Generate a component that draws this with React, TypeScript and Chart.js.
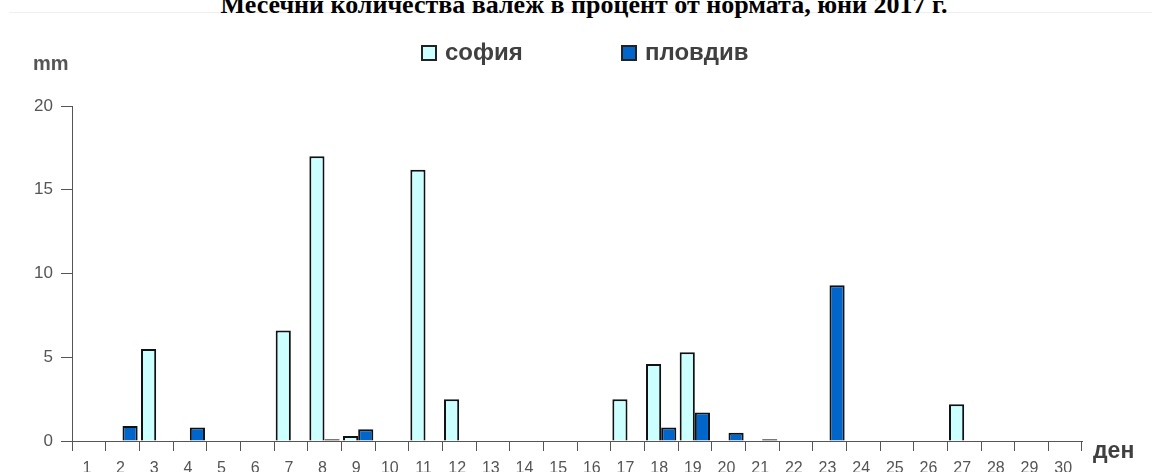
import React, { useEffect, useRef } from "react";
import { Chart, registerables } from "chart.js";

Chart.register(...registerables);

const TITLE = "Месечни количества валеж в процент от нормата, юни 2017 г.";
const Y_UNIT = "mm";
const X_UNIT = "ден";
const DAYS = Array.from({ length: 30 }, (_, i) => String(i + 1));
const SERIES_NAMES = ["софия", "пловдив"];
const SOFIA = [0, 0, 5.5, 0, 0, 0, 6.6, 17.0, 0.3, 0, 16.2, 2.5, 0, 0, 0, 0, 2.5, 4.6, 5.3, 0, 0, 0, 0, 0, 0, 0, 2.2, 0, 0, 0];
const PLOVDIV = [0, 0.9, 0, 0.8, 0, 0, 0, 0.1, 0.7, 0, 0, 0, 0, 0, 0, 0, 0, 0.8, 1.7, 0.5, 0.1, 0, 9.3, 0, 0, 0, 0, 0, 0, 0];
const Y_TICKS = [0, 5, 10, 15, 20];
const COLORS = ["#ccffff", "#0066cc"];

const W = 1152;
const H = 472;
const AXIS_COLOR = "#555555";
const TEXT_COLOR = "#555555";
const BORDER = "#111111";
const FONT = '"Liberation Sans", Arial, sans-serif';

const tiny = (ctx: any) => ctx.raw > 0 && ctx.raw < 0.25;
const fill = (i: number) => (ctx: any) => (tiny(ctx) ? BORDER : COLORS[i]);

export default function App() {
  const ref = useRef<HTMLCanvasElement | null>(null);

  useEffect(() => {
    const canvas = ref.current;
    if (!canvas) return;
    const chart = new Chart(canvas, {
      type: "bar",
      data: {
        labels: DAYS,
        datasets: [
          {
            label: SERIES_NAMES[0],
            data: SOFIA,
            backgroundColor: fill(0) as any,
            borderColor: BORDER,
            borderWidth: 2,
            categoryPercentage: 0.9,
            barPercentage: 1.0,
          },
          {
            label: SERIES_NAMES[1],
            data: PLOVDIV,
            backgroundColor: fill(1) as any,
            borderColor: BORDER,
            borderWidth: 2,
            categoryPercentage: 0.9,
            barPercentage: 1.0,
          },
        ],
      },
      options: {
        responsive: false,
        animation: false,
        events: [],
        layout: { padding: { top: 106, right: 70, left: 0, bottom: 0 } },
        plugins: {
          legend: { display: false },
          title: { display: false },
          tooltip: { enabled: false },
        },
        scales: {
          x: {
            type: "category",
            offset: true,
            grid: {
              display: true,
              offset: true,
              drawOnChartArea: false,
              drawTicks: true,
              tickLength: 10,
              color: AXIS_COLOR,
              lineWidth: 1,
            },
            border: { display: true, color: AXIS_COLOR, width: 1 },
            ticks: {
              color: TEXT_COLOR,
              font: { family: FONT, size: 16 },
              padding: 8,
              labelOffset: -2,
              maxRotation: 0,
              autoSkip: false,
            },
            afterFit: (scale: any) => {
              scale.height = 31;
            },
          },
          y: {
            min: 0,
            max: 20,
            afterBuildTicks: (scale: any) => {
              scale.ticks = Y_TICKS.map((v) => ({ value: v }));
            },
            grid: {
              display: true,
              drawOnChartArea: false,
              drawTicks: true,
              tickLength: 11,
              color: AXIS_COLOR,
              lineWidth: 1,
            },
            border: { display: true, color: AXIS_COLOR, width: 1 },
            ticks: {
              color: TEXT_COLOR,
              font: { family: FONT, size: 17 },
              padding: 8,
            },
            afterFit: (scale: any) => {
              scale.width = 72;
            },
          },
        },
      },
    });
    return () => chart.destroy();
  }, []);

  return (
    <div style={{ position: "absolute", left: 0, top: 0, width: W, height: H, overflow: "hidden", background: "#ffffff" }}>
      <div style={{ position: "absolute", left: 9, right: 0, top: 12, height: 1, background: "#eeeeee" }} />
      <div
        style={{
          position: "absolute",
          left: 0,
          width: W,
          top: -10,
          textAlign: "center",
          paddingLeft: 16,
          boxSizing: "border-box",
          font: 'bold 26px "Liberation Serif", "DejaVu Serif", serif',
          color: "#000000",
          lineHeight: "30px",
          whiteSpace: "nowrap",
        }}
      >
        {TITLE}
      </div>
      <canvas ref={ref} width={W} height={H} style={{ position: "absolute", left: 0, top: 0, width: W, height: H }} />
      {SERIES_NAMES.map((name, i) => (
        <div
          key={name}
          style={{
            position: "absolute",
            left: i === 0 ? 421 : 621,
            top: 37,
            height: 30,
            display: "flex",
            alignItems: "center",
            font: `bold 24px ${FONT}`,
            color: "#404040",
            whiteSpace: "nowrap",
          }}
        >
          <span
            style={{
              display: "inline-block",
              width: 12,
              height: 12,
              border: "2px solid #222222",
              background: COLORS[i],
              marginRight: 8,
              marginTop: 2,
            }}
          />
          {name}
        </div>
      ))}
      <div style={{ position: "absolute", left: 33, top: 52, font: `bold 20px ${FONT}`, color: "#555555" }}>{Y_UNIT}</div>
      <div style={{ position: "absolute", left: 1093, top: 437, font: `bold 23px ${FONT}`, color: "#404040" }}>{X_UNIT}</div>
    </div>
  );
}
